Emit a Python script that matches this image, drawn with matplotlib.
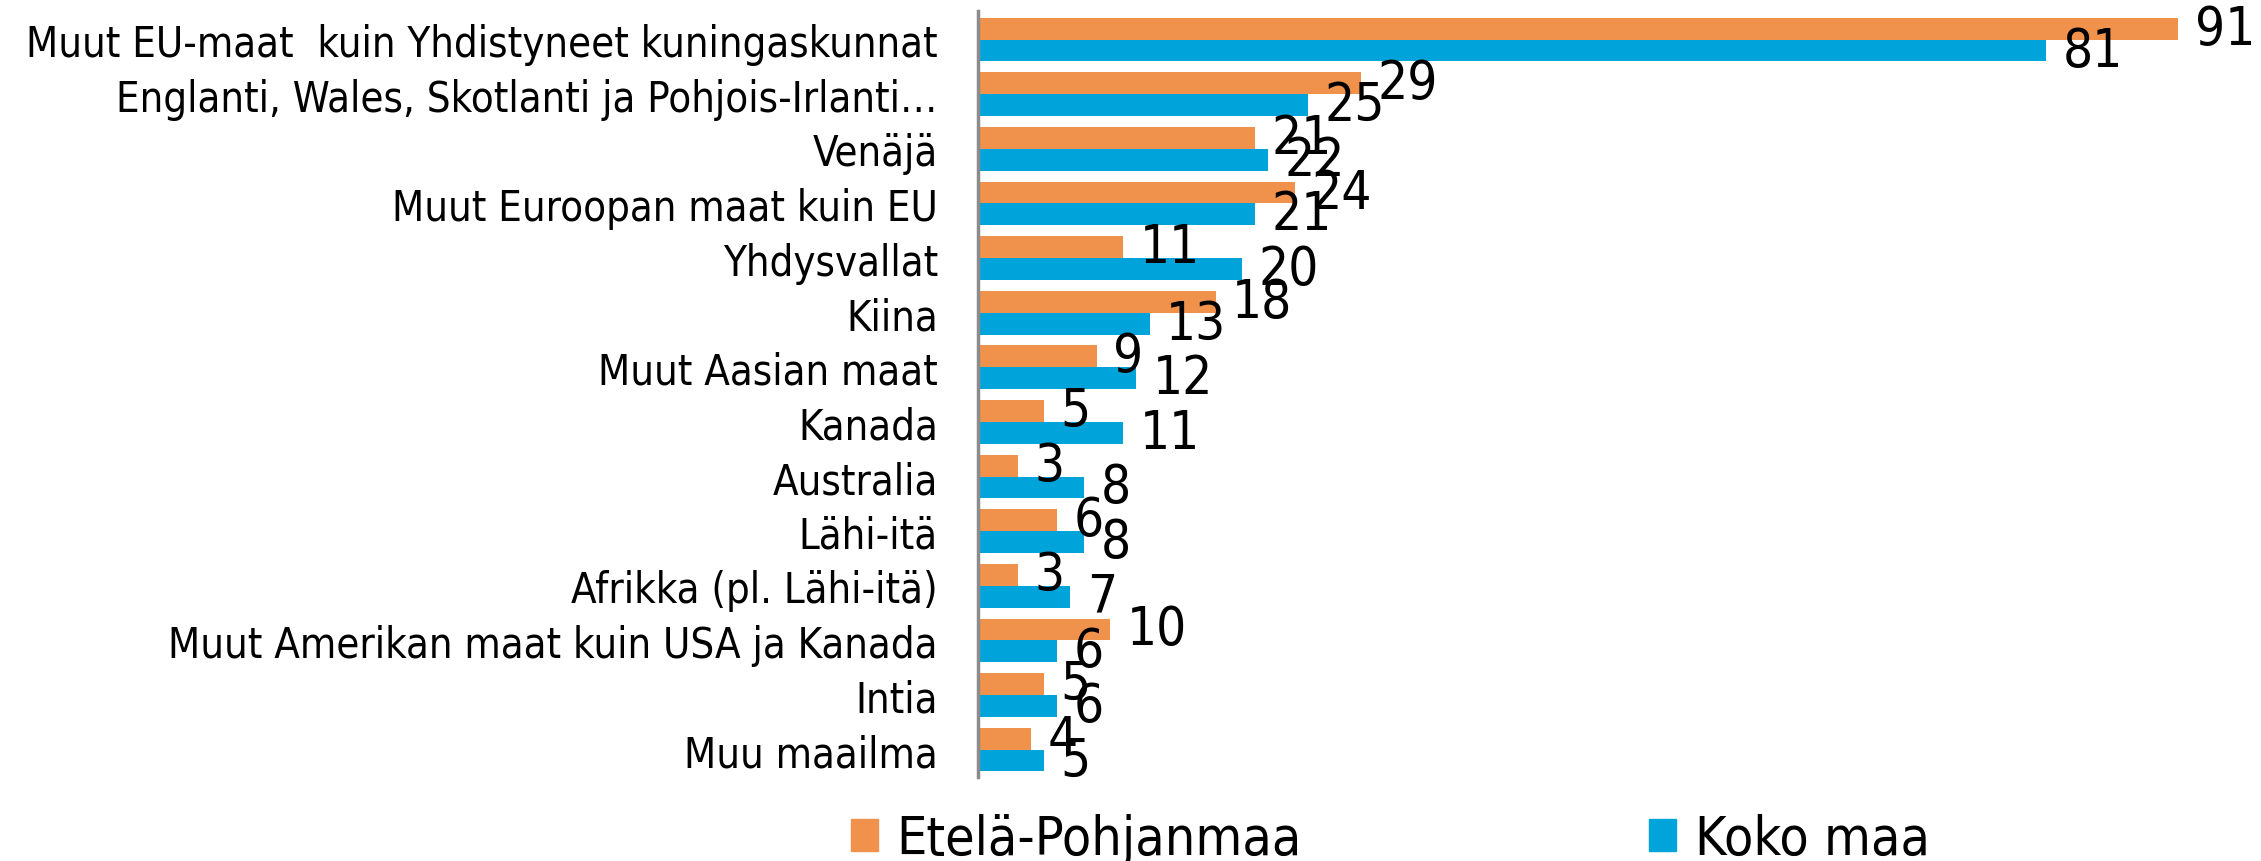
import numpy as np
import matplotlib
matplotlib.use("Agg")
import matplotlib.pyplot as plt
from matplotlib.patches import Patch

#%% Data
categories = [
    "Muut EU-maat  kuin Yhdistyneet kuningaskunnat",
    "Englanti, Wales, Skotlanti ja Pohjois-Irlanti…",
    "Venäjä",
    "Muut Euroopan maat kuin EU",
    "Yhdysvallat",
    "Kiina",
    "Muut Aasian maat",
    "Kanada",
    "Australia",
    "Lähi-itä",
    "Afrikka (pl. Lähi-itä)",
    "Muut Amerikan maat kuin USA ja Kanada",
    "Intia",
    "Muu maailma",
]
etela_pohjanmaa = [91, 29, 21, 24, 11, 18, 9, 5, 3, 6, 3, 10, 5, 4]
koko_maa = [81, 25, 22, 21, 20, 13, 12, 11, 8, 8, 7, 6, 6, 5]
series_names = ["Etelä-Pohjanmaa", "Koko maa"]

#%% Plot
orange = '#F0924C'
blue = '#00A4DA'
plt.rcParams['font.family'] = ['DejaVu Sans']
plt.rcParams['font.stretch'] = 'condensed'

fig = plt.figure(figsize=(22.61, 8.62), dpi=100)
ax = fig.add_axes([0.4326, 0.0975, 0.567, 0.889])

y = np.arange(len(categories))
h = 0.40
b1 = ax.barh(y - h/2, etela_pohjanmaa, height=h, color=orange)
b2 = ax.barh(y + h/2, koko_maa, height=h, color=blue)

# value labels next to the bar ends
for bars, vals in [(b1, etela_pohjanmaa), (b2, koko_maa)]:
    for bar, v in zip(bars, vals):
        ax.annotate(str(v), (bar.get_width(), bar.get_y() + bar.get_height()/2),
                    xytext=(12, 0), textcoords='offset points',
                    va='center', ha='left', fontsize=38, clip_on=False)

ax.set_xlim(0, 97.2)
ax.set_ylim(len(categories) - 0.5, -0.53)
ax.set_yticks(y)
ax.set_yticklabels(categories, fontsize=30)
ax.tick_params(axis='y', length=0, pad=29)
ax.set_xticks([])
for s in ['top', 'right', 'bottom']:
    ax.spines[s].set_visible(False)
ax.spines['left'].set_color('#8c8c8c')
ax.spines['left'].set_linewidth(2.5)

handles = [Patch(color=orange), Patch(color=blue)]
fig.legend(handles, series_names, loc='center', bbox_to_anchor=(0.615, 0.026),
           ncol=2, frameon=False, fontsize=38.5, handlelength=0.5, handleheight=0.55,
           handletextpad=0.35, columnspacing=6.5)

fig.savefig('out.png', dpi=100)
